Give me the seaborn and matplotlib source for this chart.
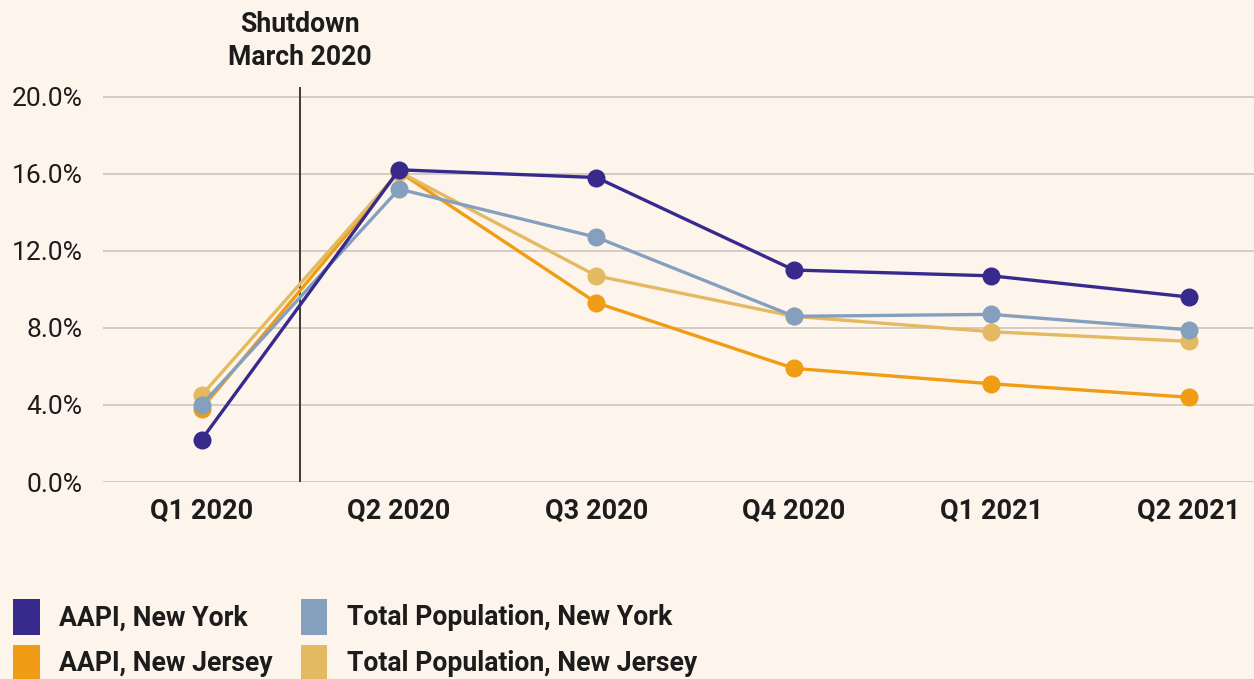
import matplotlib
matplotlib.use("Agg")
import matplotlib.pyplot as plt
from matplotlib.patches import Patch
import seaborn as sns
import pandas as pd

quarters = ["Q1 2020", "Q2 2020", "Q3 2020", "Q4 2020", "Q1 2021", "Q2 2021"]
aapi_ny = [2.2, 16.2, 15.8, 11.0, 10.7, 9.6]
total_ny = [4.0, 15.2, 12.7, 8.6, 8.7, 7.9]
aapi_nj = [3.8, 16.1, 9.3, 5.9, 5.1, 4.4]
total_nj = [4.5, 16.1, 10.7, 8.6, 7.8, 7.3]
series_names = ["AAPI, New York", "Total Population, New York",
                "AAPI, New Jersey", "Total Population, New Jersey"]
yticks = [0, 4, 8, 12, 16, 20]
annotation = "Shutdown\nMarch 2020"

colors = {
    "AAPI, New York": "#372A8C",
    "Total Population, New York": "#85A0BE",
    "AAPI, New Jersey": "#F09C14",
    "Total Population, New Jersey": "#E3B962",
}

bg = "#FDF5EC"
txt = "#1c1c1c"

sns.set_theme(style="white")
plt.rcParams["font.family"] = ["Roboto", "DejaVu Sans"]

rows = []
for name, vals in zip(series_names, [aapi_ny, total_ny, aapi_nj, total_nj]):
    for q, v in zip(quarters, vals):
        rows.append({"Quarter": q, "Rate": v, "Series": name})
df = pd.DataFrame(rows)

fig = plt.figure(figsize=(12.54, 6.79), dpi=100, facecolor=bg)
ax = fig.add_axes([0.082, 0.29, 0.918, 0.582])
ax.set_facecolor(bg)

draw_order = ["AAPI, New Jersey", "Total Population, New Jersey",
              "Total Population, New York", "AAPI, New York"]
for name in draw_order:
    sub = df[df["Series"] == name]
    sns.lineplot(data=sub, x="Quarter", y="Rate", ax=ax, color=colors[name],
                 marker="o", markersize=13, markeredgewidth=0, linewidth=2.4,
                 sort=False, zorder=3, legend=False)

ax.set_xlim(-0.5, 5.33)
ax.set_ylim(0, 20.5)
ax.set_yticks(yticks)
ax.set_yticklabels([f"{t:.1f}%" for t in yticks], fontsize=19, color=txt)
ax.set_xticks(range(len(quarters)))
ax.set_xticklabels(quarters, fontsize=19.5, fontweight="bold", color=txt)
ax.set_xlabel("")
ax.set_ylabel("")
for t in yticks:
    ax.axhline(t, color="#C9C2BA", linewidth=1.1, zorder=1)
for s in ax.spines.values():
    s.set_visible(False)
ax.tick_params(axis="x", direction="in", length=7, color="#D8D2CC", width=1, pad=11)
ax.tick_params(axis="y", length=0, pad=14.5)
for lab in ax.get_yticklabels():
    lab.set_horizontalalignment("right")

ax.axvline(0.5, ymin=0, ymax=1, color="#3a3a3a", linewidth=1.4, zorder=2)
ax.text(0.5, 1.04, annotation, transform=ax.get_xaxis_transform(),
        ha="center", va="bottom", fontsize=19.2, fontweight="bold",
        color=txt, linespacing=1.3)

legend_order = ["AAPI, New York", "AAPI, New Jersey",
                "Total Population, New York", "Total Population, New Jersey"]
handles = [Patch(facecolor=colors[n], edgecolor="none") for n in legend_order]
leg = fig.legend(handles, legend_order, ncol=2, loc="upper left",
                 bbox_to_anchor=(0.002, 0.134), frameon=False,
                 prop={"family": ["Roboto", "DejaVu Sans"], "weight": "bold", "size": 19.2},
                 handlelength=1.0, handleheight=1.7, handletextpad=0.72,
                 columnspacing=1.05, labelspacing=0.37, borderaxespad=0.0)
for t in leg.get_texts():
    t.set_color(txt)

fig.savefig("out.png", dpi=100, facecolor=bg)
